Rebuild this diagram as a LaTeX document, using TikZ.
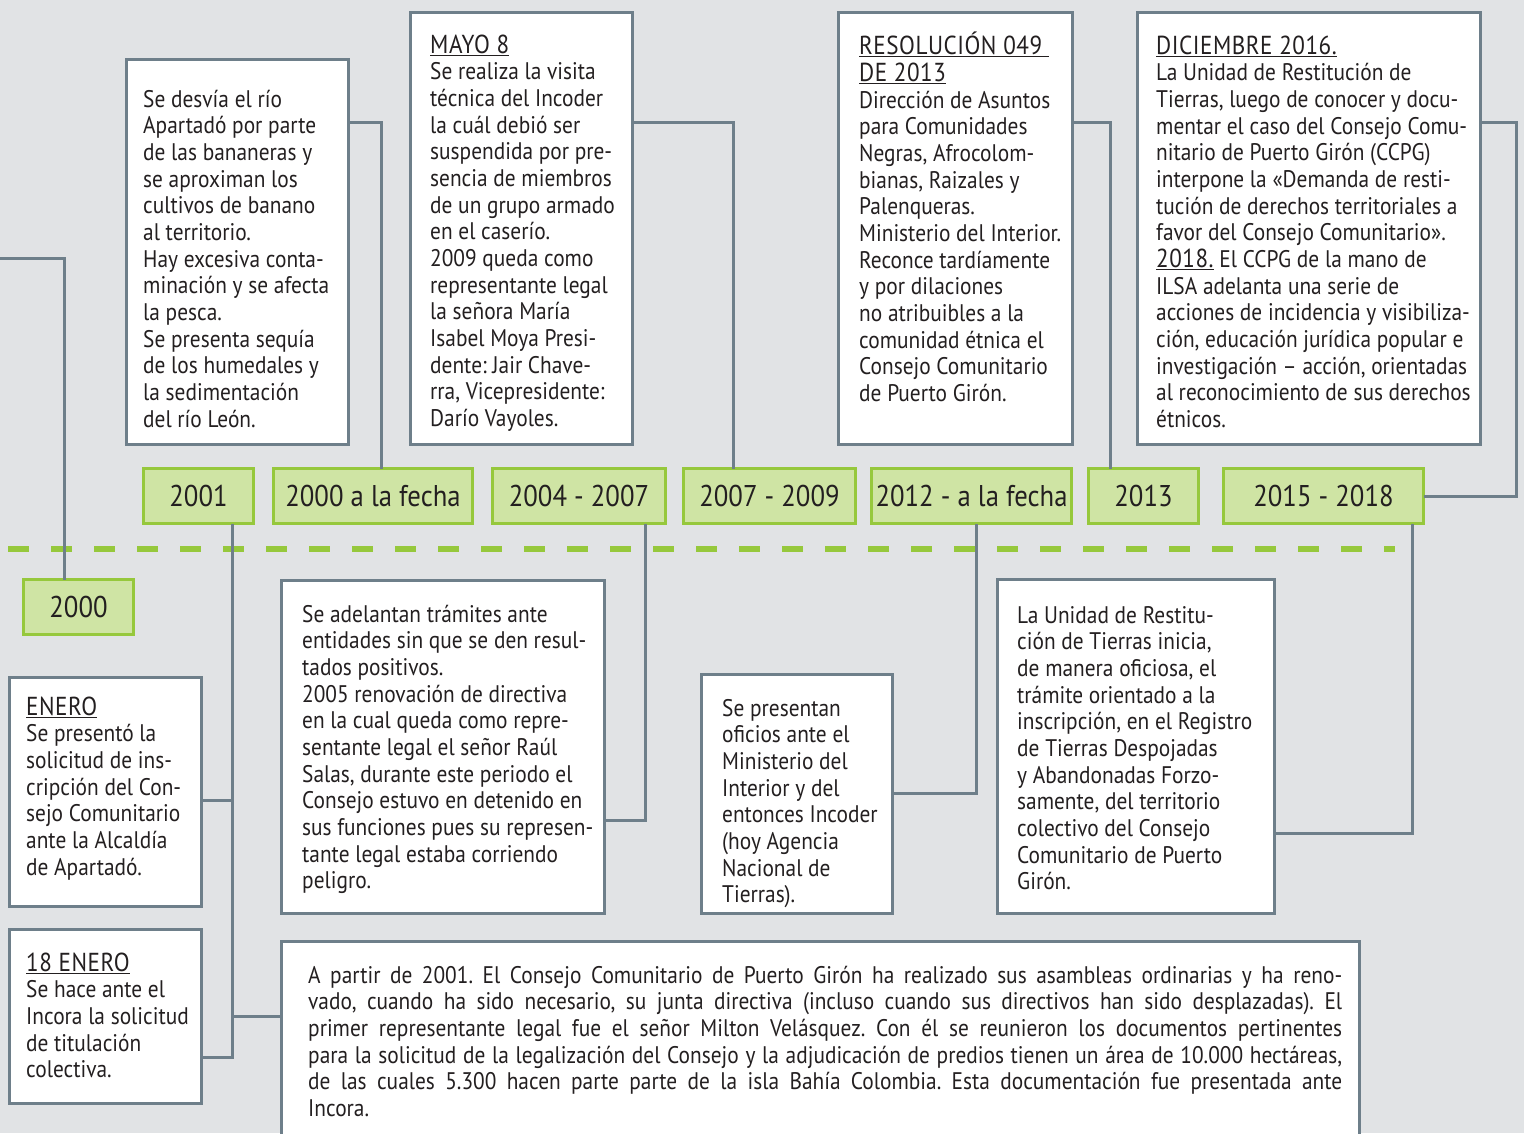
\documentclass[tikz,border=0pt]{standalone}
\usepackage{fontspec}
\setmainfont[FakeStretch=0.89]{PT Sans}
\newfontfamily\headfont[FakeStretch=0.89,LetterSpace=2]{PT Sans}
\newcommand\heading[1]{\underline{{\headfont\fontsize{26}{26.67}\selectfont #1}}}
\definecolor{bgc}{HTML}{E1E3E5}
\definecolor{linec}{HTML}{6E7F8A}
\definecolor{greenc}{HTML}{96C83C}
\definecolor{greenf}{HTML}{CFE4A4}
\definecolor{txtc}{HTML}{231F20}

\begin{document}
\frenchspacing
\begin{tikzpicture}[x=1pt,y=-1pt,
    evbox/.style={draw=linec,line width=3pt,fill=white,anchor=north west,inner sep=0pt,outer sep=0pt},
    txt/.style={anchor=north west,inner sep=0pt,align=left,text=txtc,font=\fontsize{24}{26.67}\selectfont},
    yearbox/.style={draw=greenc,line width=3pt,fill=greenf,inner sep=0pt,outer sep=0pt,minimum height=55pt,text=txtc,font=\fontsize{30}{32}\selectfont},
    conn/.style={draw=linec,line width=3pt},
    timeline/.style={draw=greenc,line width=6pt,dash pattern=on 21pt off 22pt}]
    \useasboundingbox (0,0) rectangle (1524,1133);
    \fill[bgc] (0,0) rectangle (1524,1133);
    \clip (0,0) rectangle (1524,1133);

    % timeline
    \coordinate (tlstart) at (8,549);
    \coordinate (tlend) at (1395,549);
    \draw[timeline] (tlstart) -- (tlend);

    % years
    \node[yearbox,minimum width=110pt] (y2001) at (198.5,496) {2001};
    \node[yearbox,minimum width=199pt] (afecha) at (373,496) {2000 a la fecha};
    \node[yearbox,minimum width=173pt] (y0407) at (579,496) {2004 - 2007};
    \node[yearbox,minimum width=172pt] (y0709) at (769.5,496) {2007 - 2009};
    \node[yearbox,minimum width=200pt] (y12) at (971.5,496) {2012 - a la fecha};
    \node[yearbox,minimum width=110pt] (y2013) at (1143.5,496) {2013};
    \node[yearbox,minimum width=200pt] (y1518) at (1323.5,496) {2015 - 2018};
    \node[yearbox,minimum width=110pt] (y2000) at (78.5,607) {2000};

    % top boxes
    \node[evbox,minimum width=222pt,minimum height=385pt] (desvia) at (126.5,59.5) {};
    \node[txt] (desvia-t) at (143,85) {\rule{0pt}{22pt}Se desvía el río\\Apartadó por parte\\de las bananeras y\\se aproximan los\\cultivos de banano\\al territorio.\\Hay excesiva conta-\\minación y se afecta\\la pesca.\\Se presenta sequía\\de los humedales y\\la sedimentación\\del río León.};

    \node[evbox,minimum width=222pt,minimum height=432pt] (mayo) at (410.5,12.5) {};
    \node[txt] (mayo-t) at (430,31) {\rule{0pt}{22pt}\heading{MAYO 8}\\Se realiza la visita\\técnica del Incoder\\la cuál debió ser\\suspendida por pre-\\sencia de miembros\\de un grupo armado\\en el caserío.\\2009 queda como\\representante legal\\la señora María\\Isabel Moya Presi-\\dente: Jair Chave-\\rra, Vicepresidente:\\Darío Vayoles.};

    \node[evbox,minimum width=234pt,minimum height=432pt] (resol) at (838.5,12.5) {};
    \node[txt] (resol-t) at (859,32) {\rule{0pt}{22pt}\heading{RESOLUCIÓN 049 }\\\heading{DE 2013}\\Dirección de Asuntos\\para Comunidades\\Negras, Afrocolom-\\bianas, Raizales y\\Palenqueras.\\Ministerio del Interior.\\Reconce tardíamente\\y por dilaciones\\no atribuibles a la\\comunidad étnica el\\Consejo Comunitario\\de Puerto Girón.};

    \node[evbox,minimum width=343pt,minimum height=432pt] (dic) at (1137.5,12.5) {};
    \node[txt] (dic-t) at (1156,32) {\rule{0pt}{22pt}\heading{DICIEMBRE 2016.}\\La Unidad de Restitución de\\Tierras, luego de conocer y docu-\\mentar el caso del Consejo Comu-\\nitario de Puerto Girón (CCPG)\\interpone la «Demanda de resti-\\tución de derechos territoriales a\\favor del Consejo Comunitario».\\\heading{2018.} El CCPG de la mano de\\ILSA adelanta una serie de\\acciones de incidencia y visibiliza-\\ción, educación jurídica popular e\\investigación – acción, orientadas\\al reconocimiento de sus derechos\\étnicos.};

    % bottom boxes
    \node[evbox,minimum width=192pt,minimum height=229pt] (enero) at (9.5,677.5) {};
    \node[txt] (enero-t) at (26,693) {\rule{0pt}{22pt}\heading{ENERO}\\Se presentó la\\solicitud de ins-\\cripción del Con-\\sejo Comunitario\\ante la Alcaldía\\de Apartadó.};

    \node[evbox,minimum width=192pt,minimum height=174pt] (enero18) at (9.5,929.5) {};
    \node[txt] (enero18-t) at (26,949) {\rule{0pt}{22pt}\heading{18 ENERO}\\Se hace ante el\\Incora la solicitud\\de titulación\\colectiva.};

    \node[evbox,minimum width=323pt,minimum height=333pt] (adelantan) at (281.5,580.5) {};
    \node[txt] (adelantan-t) at (302,600) {\rule{0pt}{22pt}Se adelantan trámites ante\\entidades sin que se den resul-\\tados positivos.\\2005 renovación de directiva\\en la cual queda como repre-\\sentante legal el señor Raúl\\Salas, durante este periodo el\\Consejo estuvo en detenido en\\sus funciones pues su represen-\\tante legal estaba corriendo\\peligro.};

    \node[evbox,minimum width=191pt,minimum height=239pt] (presentan) at (701.5,674.5) {};
    \node[txt] (presentan-t) at (722,694) {\rule{0pt}{22pt}Se presentan\\oficios ante el\\Ministerio del\\Interior y del\\entonces Incoder\\(hoy Agencia\\Nacional de\\Tierras).};

    \node[evbox,minimum width=277pt,minimum height=334pt] (unidad) at (997.5,579.5) {};
    \node[txt] (unidad-t) at (1017,601) {\rule{0pt}{22pt}La Unidad de Restitu-\\ción de Tierras inicia,\\de manera oficiosa, el\\trámite orientado a la\\inscripción, en el Registro\\de Tierras Despojadas\\y Abandonadas Forzo-\\samente, del territorio\\colectivo del Consejo\\Comunitario de Puerto\\Girón.};

    \node[evbox,minimum width=1078pt,minimum height=250pt] (apartir) at (281.5,941.5) {};
    \node[txt] (apartir-t) at (308,961) {\rule{0pt}{22pt}\makebox[1034pt][s]{A partir de 2001. El Consejo Comunitario de Puerto Girón ha realizado sus asambleas ordinarias y ha reno-}\\\makebox[1034pt][s]{vado, cuando ha sido necesario, su junta directiva (incluso cuando sus directivos han sido desplazadas). El}\\\makebox[1034pt][s]{primer representante legal fue el señor Milton Velásquez. Con él se reunieron los documentos pertinentes}\\\makebox[1034pt][s]{para la solicitud de la legalización del Consejo y la adjudicación de predios tienen un área de 10.000 hectáreas,}\\\makebox[1034pt][s]{de las cuales 5.300 hacen parte parte de la isla Bahía Colombia. Esta documentación fue presentada ante}\\Incora.};

    % connectors
    \coordinate (dicbend) at (1516,122);
    \coordinate (leftend) at (0,258);
    \draw[conn] (desvia.east |- 0,122) -| ([xshift=8pt]afecha.north);
    \draw[conn] (mayo.east |- 0,122) -| ([xshift=-36.5pt]y0709.north);
    \draw[conn] (resol.east |- 0,122) -| ([xshift=-33.5pt]y2013.north);
    \draw[conn] (dic.east |- dicbend) -- (dicbend) |- (y1518.east);
    \draw[conn] ([xshift=-14.5pt]y2000.north) |- (leftend);
    \draw[conn] ([xshift=33.5pt]y2001.south) |- (enero18.east |- 0,1057);
    \draw[conn] (enero.east |- 0,800) -| ([xshift=33.5pt]y2001.south);
    \draw[conn] ([xshift=33.5pt]y2001.south |- 0,1016) -- (apartir.west |- 0,1016);
    \draw[conn] (adelantan.east |- 0,820) -| ([xshift=66pt]y0407.south);
    \draw[conn] (presentan.east |- 0,793) -| ([xshift=4.5pt]y12.south);
    \draw[conn] (unidad.east |- 0,833) -| ([xshift=88.5pt]y1518.south);
\end{tikzpicture}
\end{document}
